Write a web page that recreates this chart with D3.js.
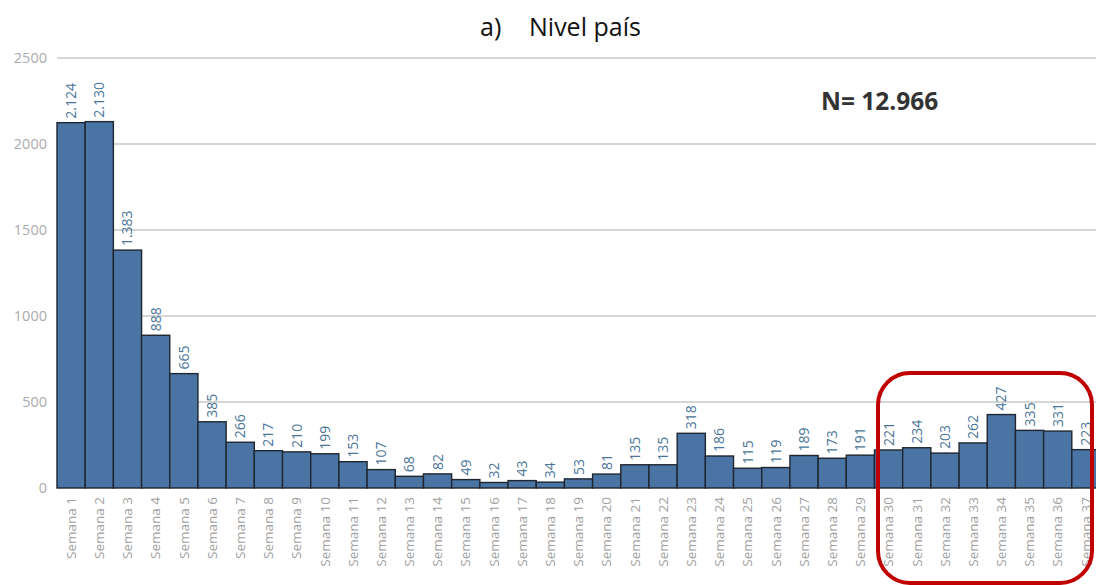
<!DOCTYPE html>
<html><head><meta charset="utf-8">
<script src="https://cdn.jsdelivr.net/npm/d3@7"></script>
<style>html,body{margin:0;padding:0;background:#fff;overflow:hidden}</style>
</head><body>
<svg id="c" width="1096" height="585"></svg>
<script>
const categories = Array.from({length:37},(_,i)=>"Semana "+(i+1));
const values = [2124,2130,1383,888,665,385,266,217,210,199,153,107,68,82,49,32,43,34,53,81,135,135,318,186,115,119,189,173,191,221,234,203,262,427,335,331,223];
const yTicks = [0,500,1000,1500,2000,2500];
const fmt = v => v>=1000 ? d3.format(",")(v).replace(/,/g,".") : String(v);

const svg = d3.select("#c");
const x = d3.scaleBand().domain(categories).range([57,1100]).padding(0);
const y = d3.scaleLinear().domain([0,2500]).range([488,58]);

// gridlines
svg.append("g").selectAll("line").data(yTicks.filter(t=>t>0)).join("line")
  .attr("x1",57).attr("x2",1096).attr("y1",d=>y(d)).attr("y2",d=>y(d))
  .attr("stroke","#c8c8c8").attr("stroke-width",1.5);

// y axis labels
const ya = svg.append("g").attr("transform","translate(47,0)")
  .call(d3.axisLeft(y).tickValues(yTicks).tickSize(0).tickPadding(0).tickFormat(d=>d));
ya.select(".domain").remove();
ya.selectAll("text").attr("fill","#ababab").style("font-family","Open Sans, sans-serif").style("font-size","14.5px");

// bars
svg.append("g").selectAll("rect").data(values).join("rect")
  .attr("x",(d,i)=>x(categories[i])).attr("width",x.bandwidth())
  .attr("y",d=>y(d)).attr("height",d=>y(0)-y(d))
  .attr("fill","#4a74a4").attr("stroke","#1f2630").attr("stroke-width",1.4);

// value labels
svg.append("g").selectAll("text").data(values).join("text")
  .attr("transform",(d,i)=>`translate(${x(categories[i])+x.bandwidth()/2+5},${y(d)-4}) rotate(-90)`)
  .attr("text-anchor","start").attr("fill","#4a7598")
  .style("font-family","Open Sans, sans-serif").style("font-size","14px")
  .text(d=>fmt(d));

// x axis labels
const xa = svg.append("g").attr("transform","translate(0,490)")
  .call(d3.axisBottom(x).tickSize(0).tickPadding(0));
xa.select(".domain").remove();
xa.selectAll("text")
  .attr("transform","rotate(-90)").attr("text-anchor","end")
  .attr("x",-7).attr("y",0).attr("dy","0.35em")
  .attr("fill","#a0a0a0").style("font-family","Open Sans, sans-serif").style("font-size","13.5px");

// title
const title = svg.append("g").style("font-family","Open Sans, sans-serif").style("font-size","25px").attr("fill","#111");
title.append("text").attr("x",480).attr("y",36).text("a)");
title.append("text").attr("x",529).attr("y",36).text("Nivel país");

// N label
svg.append("text").attr("x",821).attr("y",110).attr("fill","#333")
  .style("font-family","Open Sans, sans-serif").style("font-size","24.5px").style("font-weight","bold")
  .text("N= 12.966");

// red highlight
svg.append("rect").attr("x",878).attr("y",373).attr("width",214).attr("height",210)
  .attr("rx",32).attr("ry",32).attr("fill","none").attr("stroke","#c00000").attr("stroke-width",4);
</script>
</body></html>
